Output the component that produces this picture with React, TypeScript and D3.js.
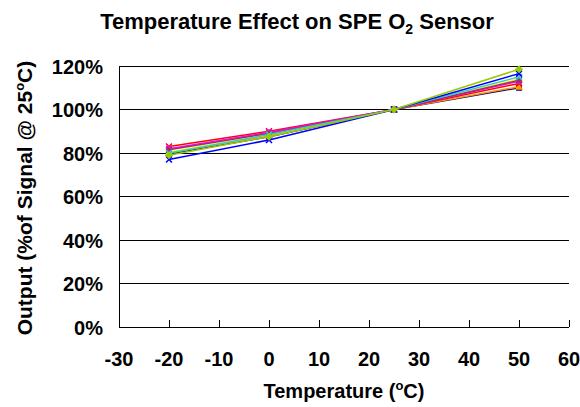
import React from "react";
import * as d3 from "d3";

const temps = [-20, 0, 25, 50];
const xTicks = [-30, -20, -10, 0, 10, 20, 30, 40, 50, 60];
const yTicks = [0, 20, 40, 60, 80, 100, 120];

const seriesNames = ["S1", "S2", "S3", "S4", "S5", "S6", "S7", "S8", "S9"];
const seriesColors = ["#000080", "#FF9900", "#FFFF00", "#FF0000", "#FF00FF", "#993366", "#33CCCC", "#0000FF", "#99CC00"];
const seriesMarkers = ["square", "triangle", "triangle", "x", "square", "star", "x", "x", "diamond"];
const seriesValues = [
  [79.5, 87.5, 100, 110],
  [80, 88, 100, 110.5],
  [80.5, 88.5, 100, 114],
  [83, 90, 100, 112],
  [82, 89.5, 100, 113],
  [81.5, 89, 100, 113.5],
  [80, 88.5, 100, 115],
  [77, 86, 100, 116.5],
  [79, 87.5, 100, 118.5],
];

const W = 580, H = 407;
const left = 119, right = 569, top = 66, bottom = 327;

function Marker({ type, x, y, color }: { type: string; x: number; y: number; color: string }) {
  const s = 3;
  if (type === "diamond") return <path d={`M${x},${y - s - 1}L${x + s + 1},${y}L${x},${y + s + 1}L${x - s - 1},${y}Z`} fill={color} />;
  if (type === "square") return <rect x={x - s} y={y - s} width={2 * s} height={2 * s} fill={color} />;
  if (type === "triangle") return <path d={`M${x},${y - s - 1}L${x + s + 1},${y + s}L${x - s - 1},${y + s}Z`} fill={color} />;
  if (type === "x") return <path d={`M${x - s},${y - s}L${x + s},${y + s}M${x - s},${y + s}L${x + s},${y - s}`} stroke={color} strokeWidth={1.5} />;
  return <path d={`M${x - s},${y - s}L${x + s},${y + s}M${x - s},${y + s}L${x + s},${y - s}M${x - s},${y}L${x + s},${y}M${x},${y - s}L${x},${y + s}`} stroke={color} strokeWidth={1.5} />;
}

export default function App() {
  const x = d3.scaleLinear().domain([-30, 60]).range([left, right]);
  const y = d3.scaleLinear().domain([0, 120]).range([bottom, top]);
  const line = d3.line<number>().x((_, i) => x(temps[i])).y((d) => y(d));
  const font = "Arial, 'Liberation Sans', sans-serif";
  return (
    <svg width={W} height={H} style={{ position: "absolute", left: 0, top: 0, background: "#fff" }} fontFamily={font}>
      <text x={297} y={29} textAnchor="middle" fontSize={22} fontWeight="bold">
        Temperature Effect on SPE O<tspan fontSize={14} dy={5}>2</tspan><tspan dy={-5}> Sensor</tspan>
      </text>
      {yTicks.map((t) => (
        <g key={t}>
          <line x1={left} x2={right} y1={y(t)} y2={y(t)} stroke="#000" strokeWidth={1} shapeRendering="crispEdges" />
          <text x={103} y={y(t) + 7.5} textAnchor="end" fontSize={20} fontWeight="bold">{t}%</text>
        </g>
      ))}
      <line x1={left} x2={left} y1={top} y2={bottom} stroke="#000" shapeRendering="crispEdges" />
      {xTicks.map((t) => (
        <g key={t}>
          <line x1={x(t)} x2={x(t)} y1={bottom - 7} y2={bottom} stroke="#000" shapeRendering="crispEdges" />
          <text x={x(t)} y={366} textAnchor="middle" fontSize={20} fontWeight="bold">{t}</text>
        </g>
      ))}
      <text x={344} y={398} textAnchor="middle" fontSize={20} fontWeight="bold">
        Temperature (<tspan fontSize={13} dy={-8}>o</tspan><tspan dy={8}>C)</tspan>
      </text>
      <text transform={`translate(32,198) rotate(-90)`} textAnchor="middle" fontSize={21} fontWeight="bold">
        Output (%of Signal @ 25<tspan fontSize={13} dy={-8}>o</tspan><tspan dy={8}>C)</tspan>
      </text>
      {seriesValues.map((vals, si) => (
        <g key={seriesNames[si]}>
          <path d={line(vals) || ""} fill="none" stroke={seriesColors[si]} strokeWidth={1.5} />
          {vals.map((v, i) => (
            <Marker key={i} type={seriesMarkers[si]} x={x(temps[i])} y={y(v)} color={seriesColors[si]} />
          ))}
        </g>
      ))}
    </svg>
  );
}
